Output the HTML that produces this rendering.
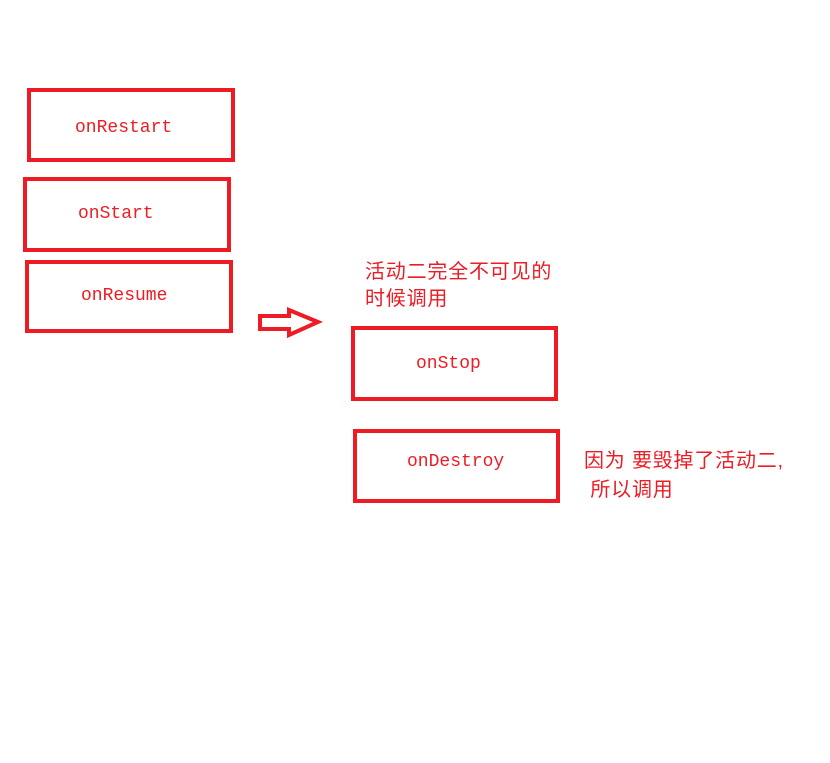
<!DOCTYPE html>
<html><head><meta charset="utf-8"><style>
body{margin:0;width:830px;height:763px;background:#fff;position:relative;overflow:hidden}
.b{position:absolute;border:4px solid #ed1c24;box-sizing:border-box}
.t{position:absolute;color:#ed1c24;font:18px "Liberation Mono",monospace;line-height:20px;white-space:nowrap}
.c{position:absolute;color:#ed1c24;font:20px "Liberation Sans","Noto Sans CJK SC",sans-serif;white-space:nowrap;letter-spacing:0.8px}
</style></head><body>
<div class="b" style="left:27px;top:88px;width:208px;height:74px"></div>
<div class="t" style="left:75px;top:118px">onRestart</div>
<div class="b" style="left:23px;top:177px;width:208px;height:75px"></div>
<div class="t" style="left:78px;top:204px">onStart</div>
<div class="b" style="left:25px;top:260px;width:208px;height:73px"></div>
<div class="t" style="left:81px;top:286px">onResume</div>
<svg style="position:absolute;left:0;top:0" width="830" height="763">
<polygon points="260,316 289,316 289,310 318,322 289,335 289,329 260,329" fill="none" stroke="#ed1c24" stroke-width="4"/>
</svg>
<div class="c" style="left:365px;top:259px;line-height:27px">活动二完全不可见的<br>时候调用</div>
<div class="b" style="left:351px;top:326px;width:207px;height:75px"></div>
<div class="t" style="left:416px;top:354px">onStop</div>
<div class="b" style="left:353px;top:429px;width:207px;height:74px"></div>
<div class="t" style="left:407px;top:452px">onDestroy</div>
<div class="c" style="left:584px;top:447px;line-height:29px">因为 要毁掉了活动二,<br>&nbsp;所以调用</div>
</body></html>
